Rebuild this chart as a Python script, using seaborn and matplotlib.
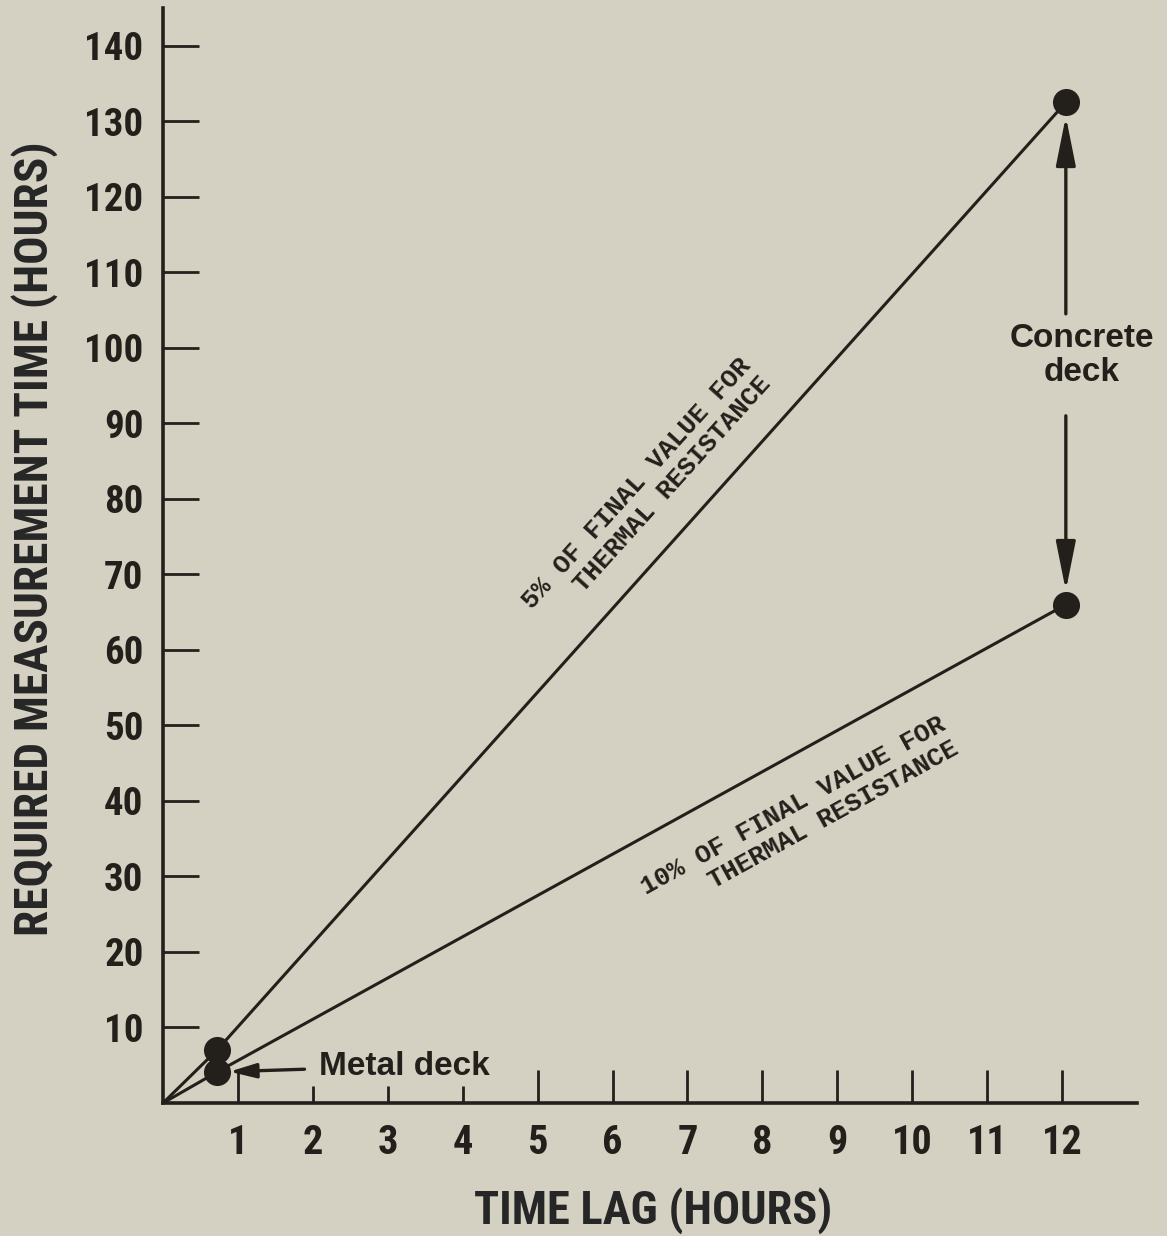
import numpy as np
import pandas as pd
import seaborn as sns
import matplotlib.pyplot as plt


# data
time_lag = [0, 0.72, 12.05]           # hours
req_time_5pct = [0, 7.0, 132.5]       # 5% of final value
req_time_10pct = [0, 4.1, 66.0]       # 10% of final value

x_ticks_long = [1, 5, 6, 7, 8, 9, 10, 11, 12]
x_ticks_short = [2, 3, 4]
y_ticks = list(range(10, 150, 10))

paper = '#d4d1c2'
ink = '#231f1b'

sns.set_theme(style='ticks')
plt.rcParams['font.family'] = ['Roboto Condensed', 'DejaVu Sans']
plt.rcParams['axes.edgecolor'] = ink
plt.rcParams['text.color'] = ink
plt.rcParams['xtick.color'] = ink
plt.rcParams['ytick.color'] = ink

df = pd.DataFrame({
    'lag': time_lag * 2,
    'req': req_time_5pct + req_time_10pct,
    'curve': ['5%'] * 3 + ['10%'] * 3,
})

fig = plt.figure(figsize=(11.67, 12.36), dpi=100, facecolor=paper)
ax = fig.add_axes([0.1397, 0.1076, 0.8346, 0.8859])
ax.set_facecolor(paper)

sns.lineplot(data=df, x='lag', y='req', units='curve', estimator=None,
             color=ink, linewidth=2.2, ax=ax, sort=False)
pts = df[df['lag'] > 0]
sns.scatterplot(data=pts, x='lag', y='req', color=ink, s=380,
                edgecolor=ink, linewidth=0, ax=ax, zorder=5, clip_on=False)

ax.set_xlim(0, 13)
ax.set_ylim(0, 145)
sns.despine(ax=ax)
for side in ['left', 'bottom']:
    ax.spines[side].set_linewidth(2.6)

ax.set_xticks(x_ticks_long, labels=[str(t) for t in x_ticks_long])
ax.set_xticks(x_ticks_short, minor=True, labels=[str(t) for t in x_ticks_short])
ax.set_yticks(y_ticks, labels=[str(t) for t in y_ticks])
ax.tick_params(axis='both', which='both', direction='in', width=2.0)
ax.tick_params(axis='y', length=26, pad=14, labelsize=28)
ax.tick_params(axis='x', which='major', length=24, pad=15, labelsize=29)
ax.tick_params(axis='x', which='minor', length=12, pad=15, labelsize=29)
for lab in ax.get_xticklabels(which='both') + ax.get_yticklabels():
    lab.set_fontweight('bold')

ax.set_xlabel('TIME LAG (HOURS)', fontsize=33.5, fontweight='bold', va='center')
ax.xaxis.set_label_coords(0.503, -0.0986)
ax.set_ylabel('REQUIRED MEASUREMENT TIME (HOURS)', fontsize=34,
              fontweight='bold', va='center')
ax.yaxis.set_label_coords(-0.1324, 0.515)

# labels along the two lines
slope5 = np.degrees(np.arctan(req_time_5pct[2] / time_lag[2]))
slope10 = np.degrees(np.arctan(req_time_10pct[2] / time_lag[2]))
ax.text(6.45, 80.8, '5% OF FINAL VALUE FOR\n   THERMAL RESISTANCE',
        family='Liberation Mono', fontsize=18.7, fontweight='bold',
        rotation=slope5, transform_rotates_text=True, rotation_mode='anchor',
        ha='center', va='center', multialignment='right', linespacing=1.15)
ax.text(8.5, 37.8, '10% OF FINAL VALUE FOR\n    THERMAL RESISTANCE',
        family='Liberation Mono', fontsize=18.7, fontweight='bold',
        rotation=slope10, transform_rotates_text=True, rotation_mode='anchor',
        ha='center', va='center', multialignment='right', linespacing=1.2)

# concrete deck callout
arrow_kw = dict(arrowstyle='-|>,head_length=1.5,head_width=0.3',
                color=ink, lw=2.4, mutation_scale=20, shrinkA=0)
ax.annotate('', xy=(time_lag[2], req_time_5pct[2]), xytext=(time_lag[2], 104.5),
            arrowprops=dict(arrow_kw, shrinkB=10), annotation_clip=False)
ax.annotate('', xy=(time_lag[2], req_time_10pct[2]), xytext=(time_lag[2], 91.0),
            arrowprops=dict(arrow_kw, shrinkB=10), annotation_clip=False)
ax.text(12.26, 101.3, 'Concrete', family='Liberation Sans', fontsize=24,
        fontweight='bold', ha='center', va='center', clip_on=False)
ax.text(12.26, 96.8, 'deck', family='Liberation Sans', fontsize=24,
        fontweight='bold', ha='center', va='center', clip_on=False)

# metal deck callout
ax.annotate('Metal deck', xy=(time_lag[1], req_time_10pct[1]), xytext=(2.08, 4.9),
            family='Liberation Sans', fontsize=24, fontweight='bold',
            ha='left', va='center',
            arrowprops=dict(arrowstyle='-|>,head_length=0.8,head_width=0.22',
                            color=ink, lw=2.4, mutation_scale=20,
                            shrinkA=8, shrinkB=9))

fig.savefig('out.png', dpi=100, facecolor=paper)
